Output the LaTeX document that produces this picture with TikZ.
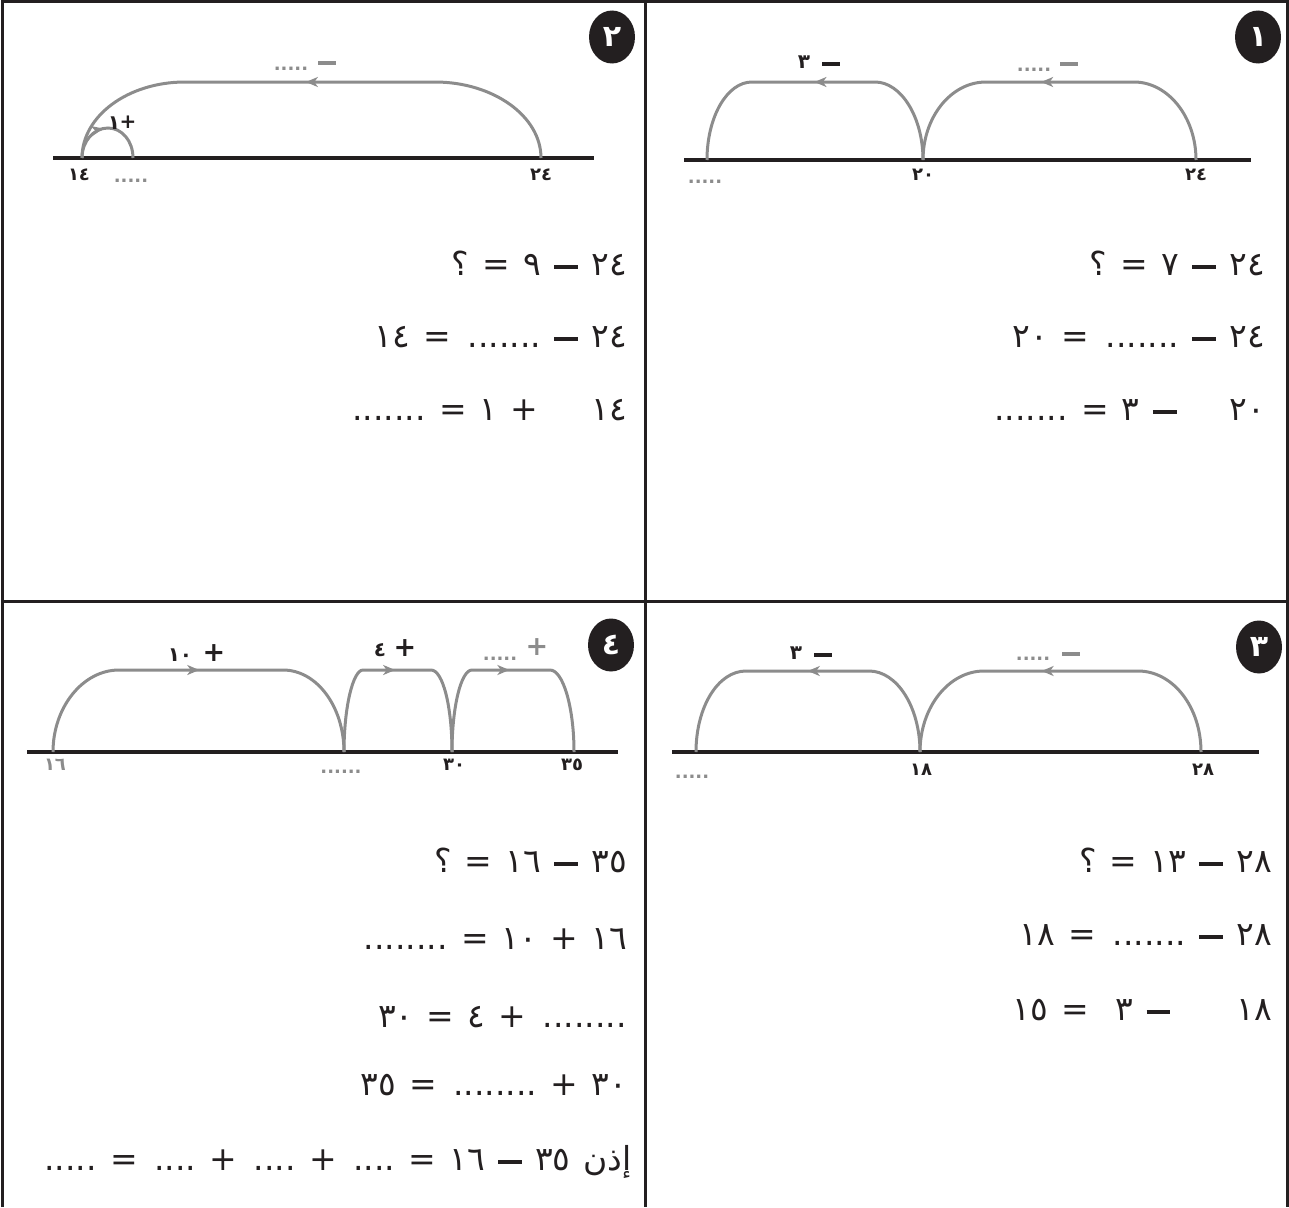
\documentclass[tikz,border=0pt]{standalone}
\usepackage{fontspec}
\setmainfont{DejaVu Sans}
\newfontfamily\arf[Script=Arabic]{DejaVu Sans}
\TeXXeTstate=1
\usetikzlibrary{shapes.geometric,arrows.meta,decorations.markings}
\definecolor{ink}{HTML}{231F20}
\definecolor{hopgray}{HTML}{8C8C8C}
\newcommand\mns{\rule[0.18em]{0.72em}{0.12em}}
\newcommand\eqfont{\arf\fontsize{33}{38}\selectfont}
\newcommand\eqsp{\spaceskip 0.4em\relax}
\tikzset{
  frame/.style={draw=ink, line width=3pt},
  numline/.style={draw=ink, line width=4pt},
  hop/.style={draw, color=hopgray, line width=3pt, postaction={decorate},
    decoration={markings, mark=at position #1 with {\arrow{Stealth[length=12pt,width=10pt,inset=3.5pt]}}}},
  tick/.style={inner sep=0pt, text=ink, font=\arf\bfseries\fontsize{18}{20}\selectfont},
  toplab/.style={inner sep=0pt, text=ink, font=\arf\bfseries\fontsize{20}{22}\selectfont},
  plus/.style={inner sep=0pt, text=ink, font=\arf\bfseries\fontsize{27}{30}\selectfont},
  blank/.style={inner sep=0pt, text=hopgray, font=\arf\bfseries\fontsize{18}{20}\selectfont},
  bar/.style={rectangle, inner sep=0pt, minimum width=18pt, minimum height=4pt, fill=ink},
  badge/.style={ellipse, fill=ink, text=white, inner sep=0pt, minimum width=46pt, minimum height=53pt,
    font=\arf\bfseries\fontsize{30}{32}\selectfont},
  eq/.style={anchor=base east, inner sep=0pt, text=ink, font=\eqfont},
}
\begin{document}
\begin{tikzpicture}[x=1pt,y=-1pt]
\useasboundingbox (0,0) rectangle (1289,1207);
% frame
\draw[frame] (2,1207) -- (2,2) -- (1287,2) -- (1287,1207);
\draw[frame] (645,2) -- (645,1207);
\draw[frame] (2,601) -- (1287,601);

% ===== Panel 1 (top right)
\coordinate (n1l) at (684,160); \coordinate (n1r) at (1251,160);
\coordinate (p24) at (1196,160); \coordinate (p20) at (923,160); \coordinate (p0) at (707,160);
\draw[numline] (n1l) -- (n1r);
\draw[hop=0.55] (p24) .. controls +(0,-43) and +(34,0) .. (1134,82) -- (986,82) .. controls +(-35,0) and +(0,-43) .. (p20);
\draw[hop=0.5] (p20) .. controls +(0,-43) and +(26,0) .. (875,82) -- (752,82) .. controls +(-25,0) and +(0,-43) .. (p0);
\node[badge] (bd1) at (1258,37) {١};
\node[tick] (l1a) at (1196,175) {٢٤};
\node[tick] (l1b) at (923,175) {٢٠};
\node[blank] (k1a) at (705,182) {.....};
\node[blank] (k1b) at (1034,70) {.....};
\node[bar, fill=hopgray] (m1b) at (1069,64) {};
\node[toplab] (t1a) at (804,62) {٣};
\node[bar] (m1a) at (831,64) {};
\node[eq] (e1a) at (1265,275) {\eqsp\beginR ٢٤ \mns{} ٧ = ؟\endR};
\node[eq] (e1b) at (1265,347) {\eqsp\beginR ٢٤ \mns{} ....... = ٢٠\endR};
\node[eq] (e1c) at (1265,420) {\eqsp\beginR ٢٠\hspace{1.2em} \mns{} ٣ = .......\endR};

% ===== Panel 2 (top left)
\coordinate (n2l) at (53,158); \coordinate (n2r) at (594,158);
\coordinate (q24) at (541,158); \coordinate (q14) at (82,158); \coordinate (q15) at (133,158);
\draw[numline] (n2l) -- (n2r);
\draw[hop=0.51] (q24) .. controls +(0,-42) and +(58,0) .. (435,82) -- (185,82) .. controls +(-57,0) and +(0,-42) .. (q14);
\draw[hop=0.45] (q14) .. controls +(0,-17) and +(-14,0) .. (108,128) .. controls +(14,0) and +(0,-17) .. (q15);
\node[badge] (bd2) at (612,37) {٢};
\node[tick] (l2a) at (79,175) {١٤};
\node[blank] (k2a) at (131,181) {.....};
\node[tick] (l2b) at (541,175) {٢٤};
\node[blank] (k2b) at (291,69) {.....};
\node[bar, fill=hopgray] (m2b) at (327,63) {};
\node[toplab] (t2a) at (114,123) {١};
\node[plus, font=\arf\bfseries\fontsize{20}{22}\selectfont] (u2a) at (128,122) {+};
\node[eq] (e2a) at (627,275) {\eqsp\beginR ٢٤ \mns{} ٩ = ؟\endR};
\node[eq] (e2b) at (627,347) {\eqsp\beginR ٢٤ \mns{} ....... = ١٤\endR};
\node[eq] (e2c) at (627,420) {\eqsp\beginR ١٤\hspace{1.2em} + ١ = .......\endR};

% ===== Panel 3 (bottom right)
\coordinate (n3l) at (672,752); \coordinate (n3r) at (1259,752);
\coordinate (r28) at (1201,752); \coordinate (r18) at (920,752); \coordinate (r0) at (696,752);
\draw[numline] (n3l) -- (n3r);
\draw[hop=0.55] (r28) .. controls +(0,-45) and +(35,0) .. (1138,671) -- (984,671) .. controls +(-35,0) and +(0,-45) .. (r18);
\draw[hop=0.5] (r18) .. controls +(0,-45) and +(28,0) .. (869,671) -- (746,671) .. controls +(-28,0) and +(0,-45) .. (r0);
\node[badge] (bd3) at (1259,647) {٣};
\node[tick] (l3a) at (1203,770) {٢٨};
\node[tick] (l3b) at (921,770) {١٨};
\node[blank] (k3a) at (692,777) {.....};
\node[blank] (k3b) at (1033,659) {.....};
\node[bar, fill=hopgray] (m3b) at (1071,654) {};
\node[toplab] (t3a) at (796,653) {٣};
\node[bar] (m3a) at (823,655) {};
\node[eq] (e3a) at (1272,872) {\eqsp\beginR ٢٨ \mns{} ١٣ = ؟\endR};
\node[eq] (e3b) at (1272,945) {\eqsp\beginR ٢٨ \mns{} ....... = ١٨\endR};
\node[eq] (e3c) at (1272,1020) {\eqsp\beginR ١٨\hspace{1.6em} \mns{} ٣\hspace{0.4em} = ١٥\endR};

% ===== Panel 4 (bottom left)
\coordinate (n4l) at (27,752); \coordinate (n4r) at (618,752);
\coordinate (s16) at (53,752); \coordinate (s26) at (344,752); \coordinate (s30) at (452,752); \coordinate (s35) at (574,752);
\draw[numline] (n4l) -- (n4r);
\draw[hop=0.5] (s16) .. controls +(0,-45) and +(-36,0) .. (119,670) -- (283,670) .. controls +(34,0) and +(0,-45) .. (s26);
\draw[hop=0.49] (s26) .. controls +(0,-45) and +(-10,0) .. (363,670) -- (431,670) .. controls +(12,0) and +(0,-45) .. (s30);
\draw[hop=0.49] (s30) .. controls +(0,-45) and +(-11,0) .. (472,670) -- (550,670) .. controls +(13,0) and +(0,-45) .. (s35);
\node[badge] (bd4) at (611,645) {٤};
\node[tick, text=hopgray] (l4a) at (55,765) {١٦};
\node[blank] (k4a) at (341,772) {......};
\node[tick] (l4b) at (454,765) {٣٠};
\node[tick] (l4c) at (572,765) {٣٥};
\node[toplab] (t4a) at (180,655) {١٠};
\node[plus] (u4a) at (214,653) {+};
\node[toplab] (t4b) at (380,650) {٤};
\node[plus] (u4b) at (405,648) {+};
\node[blank] (k4b) at (500,659) {.....};
\node[plus, text=hopgray] (u4c) at (537,647) {+};
\node[eq] (e4a) at (627,872) {\eqsp\beginR ٣٥ \mns{} ١٦ = ؟\endR};
\node[eq] (e4b) at (627,949) {\eqsp\beginR ١٦ + ١٠ = ........\endR};
\node[eq] (e4c) at (627,1027) {\eqsp\beginR ........ + ٤ = ٣٠\endR};
\node[eq] (e4d) at (627,1095) {\eqsp\beginR ٣٠ + ........ = ٣٥\endR};
\node[eq] (e4e) at (632,1170) {\eqsp\beginR إذن ٣٥ \mns{} ١٦ = .... + .... + .... = .....\endR};
\end{tikzpicture}
\end{document}
